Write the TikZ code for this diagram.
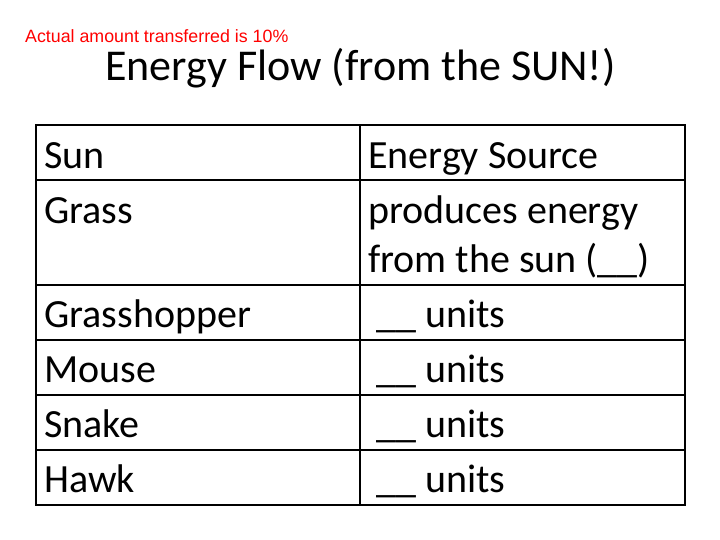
\documentclass[tikz,border=0pt]{standalone}
\usepackage{fontspec}
\setmainfont{Carlito}
\newfontfamily\arial{Liberation Sans}
\begin{document}
\begin{tikzpicture}[x=1pt,y=-1pt,
  cell/.style={anchor=base west,inner sep=0pt,font=\fontsize{40}{46}\selectfont}]
\useasboundingbox[fill=white] (0,0) rectangle (720,540);
\draw[line width=1.2pt] (36,125) rectangle (685,505);
\draw[line width=1.2pt] (360,125) -- (360,505);
\foreach \y in {180,285,340,395,450} \draw[line width=1.2pt] (36,\y) -- (685,\y);
\node[anchor=base west,inner sep=0pt,text=red,font=\arial\fontsize{17.8}{20}\selectfont] (n) at (25,43) {Actual amount transferred is 10\%};
\node[anchor=base west,inner sep=0pt,font=\fontsize{44}{50}\selectfont] (t) at (105,81) {Energy Flow (from the SUN!)};
\node[cell] (a1) at (44,169) {Sun};
\node[cell] (a2) at (44,224) {Grass};
\node[cell] (a3) at (44,327) {Grasshopper};
\node[cell] (a4) at (44,382) {Mouse};
\node[cell] (a5) at (44,437) {Snake};
\node[cell] (a6) at (44,492) {Hawk};
\node[cell] (b1) at (368,169) {Energy Source};
\node[cell] (b2) at (368,224) {produces energy};
\node[cell] (b2b) at (368,272) {from the sun (\_\_)};
\node[cell] (b3) at (376,327) {\_\_ units};
\node[cell] (b4) at (376,382) {\_\_ units};
\node[cell] (b5) at (376,437) {\_\_ units};
\node[cell] (b6) at (376,492) {\_\_ units};
\end{tikzpicture}
\end{document}
